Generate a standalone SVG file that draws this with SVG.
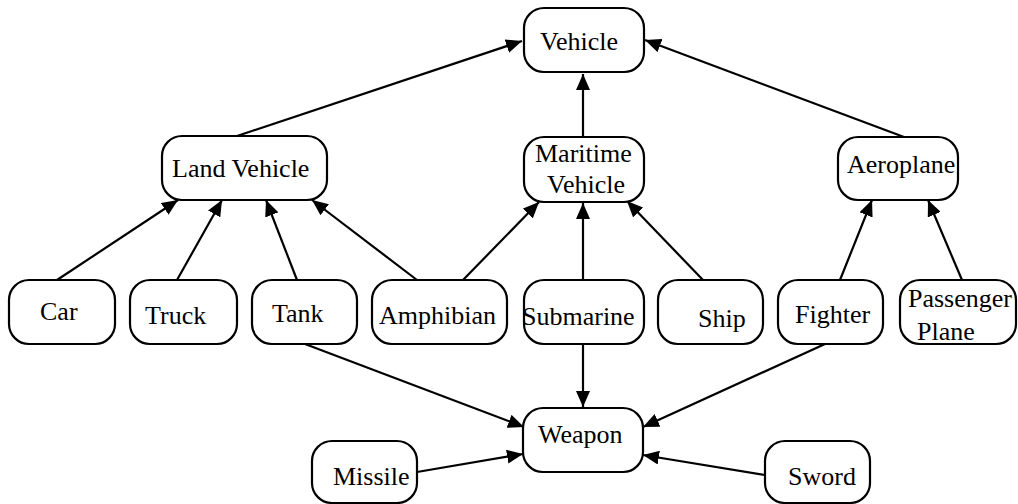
<svg xmlns="http://www.w3.org/2000/svg" width="1018" height="504" viewBox="0 0 1018 504">
<style>
.n{fill:#fff;stroke:#000;stroke-width:2.2}
.t{font-family:'Liberation Serif',Tinos,'Noto Serif','DejaVu Serif',FreeSerif,Times,Georgia,serif;font-size:26px;fill:#000}
.e{stroke:#000;stroke-width:2.2;fill:none;marker-end:url(#a)}
</style>
<defs>
<marker id="a" markerUnits="userSpaceOnUse" markerWidth="18" markerHeight="14" refX="16" refY="7" orient="auto">
<path d="M0,0 L16,7 L0,14 Z" fill="#000"/>
</marker>
</defs>
<rect width="1018" height="504" fill="#fff"/>
<g id="connectors">
<line class="e" x1="237" y1="136" x2="522" y2="41"/>
<line class="e" x1="583" y1="137" x2="583" y2="74"/>
<line class="e" x1="904" y1="137" x2="645" y2="40"/>
<line class="e" x1="57" y1="280" x2="178" y2="200"/>
<line class="e" x1="177" y1="280" x2="222" y2="200"/>
<line class="e" x1="297" y1="280" x2="266" y2="200"/>
<line class="e" x1="417" y1="280" x2="312" y2="200"/>
<line class="e" x1="463" y1="280" x2="539" y2="202"/>
<line class="e" x1="583" y1="280" x2="583" y2="203"/>
<line class="e" x1="703" y1="280" x2="627" y2="201"/>
<line class="e" x1="840" y1="280" x2="872" y2="200"/>
<line class="e" x1="962" y1="280" x2="928" y2="200"/>
<line class="e" x1="305" y1="344" x2="524" y2="427"/>
<line class="e" x1="583" y1="344" x2="583" y2="407"/>
<line class="e" x1="825" y1="344" x2="643" y2="427"/>
<line class="e" x1="417" y1="472" x2="523" y2="454"/>
<line class="e" x1="765" y1="475" x2="643" y2="455"/>
</g>
<g id="vehicle"><rect class="n" x="524" y="8" width="120" height="64" rx="20"/><text class="t" x="540" y="50">Vehicle</text></g>
<g id="land-vehicle"><rect class="n" x="162" y="136" width="165" height="64" rx="20"/><text class="t" x="172" y="177">Land Vehicle</text></g>
<g id="maritime-vehicle"><rect class="n" x="524" y="137" width="120" height="65" rx="20"/><text class="t" x="535" y="162">Maritime</text><text class="t" x="547" y="193">Vehicle</text></g>
<g id="aeroplane"><rect class="n" x="838" y="137" width="120" height="63" rx="20"/><text class="t" x="847" y="173">Aeroplane</text></g>
<g id="car"><rect class="n" x="9" y="280" width="106" height="64" rx="20"/><text class="t" x="40" y="320">Car</text></g>
<g id="truck"><rect class="n" x="130" y="280" width="107" height="64" rx="20"/><text class="t" x="145" y="324">Truck</text></g>
<g id="tank"><rect class="n" x="252" y="280" width="105" height="64" rx="20"/><text class="t" x="272" y="322">Tank</text></g>
<g id="amphibian"><rect class="n" x="372" y="280" width="135" height="64" rx="20"/><text class="t" x="379" y="324">Amphibian</text></g>
<g id="submarine"><rect class="n" x="524" y="280" width="120" height="64" rx="20"/><text class="t" x="522" y="325">Submarine</text></g>
<g id="ship"><rect class="n" x="658" y="280" width="105" height="64" rx="20"/><text class="t" x="698" y="327">Ship</text></g>
<g id="fighter"><rect class="n" x="778" y="280" width="105" height="64" rx="20"/><text class="t" x="795" y="323">Fighter</text></g>
<g id="passenger-plane"><rect class="n" x="900" y="280" width="116" height="64" rx="20"/><text class="t" x="908" y="307">Passenger</text><text class="t" x="917" y="340">Plane</text></g>
<g id="weapon"><rect class="n" x="523" y="408" width="120" height="64" rx="20"/><text class="t" x="538" y="443">Weapon</text></g>
<g id="missile"><rect class="n" x="312" y="441" width="105" height="62" rx="20"/><text class="t" x="333" y="485">Missile</text></g>
<g id="sword"><rect class="n" x="765" y="441" width="105" height="62" rx="20"/><text class="t" x="788" y="485">Sword</text></g>
</svg>
